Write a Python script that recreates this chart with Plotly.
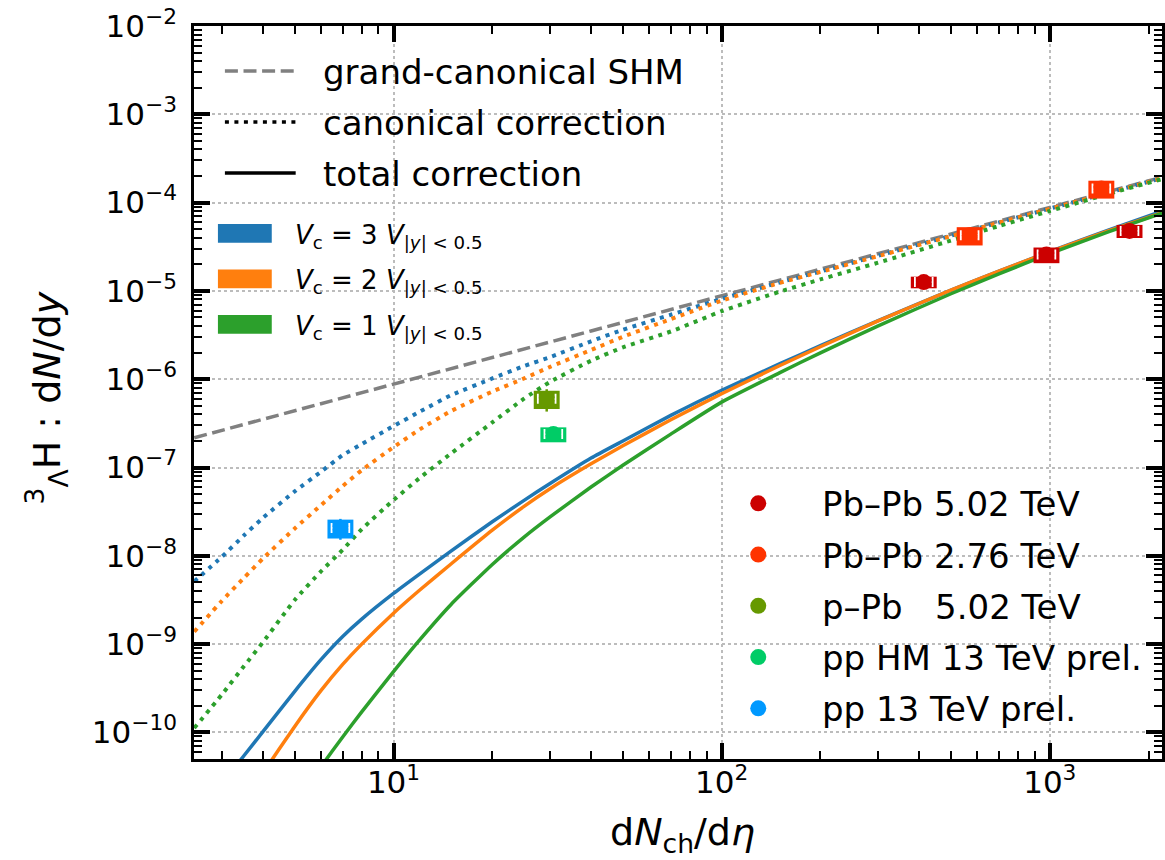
import plotly.graph_objects as go

# ---------------- data ----------------
x_model = [2.47, 3, 3.5, 4, 5, 6, 7, 8, 10, 12, 15, 20, 25, 30, 40, 50, 70,
           100, 150, 200, 300, 500, 700, 1000, 1500, 2200]

gc_shm = [2.17e-7, 2.64e-7, 3.08e-7, 3.52e-7, 4.4e-7, 5.28e-7, 6.16e-7, 7.04e-7,
          8.8e-7, 1.06e-6, 1.32e-6, 1.76e-6, 2.2e-6, 2.64e-6, 3.52e-6, 4.4e-6,
          6.16e-6, 8.8e-6, 1.32e-5, 1.76e-5, 2.64e-5, 4.4e-5, 6.16e-5, 8.8e-5,
          1.32e-4, 1.94e-4]

canon_v3 = [5.13e-9, 9.77e-9, 1.70e-8, 2.69e-8, 5.37e-8, 8.91e-8, 1.38e-7, 1.84e-7,
            2.95e-7, 4.27e-7, 6.61e-7, 1.02e-6, 1.41e-6, 1.78e-6, 2.69e-6, 3.63e-6,
            5.37e-6, 8.13e-6, 1.245e-5, 1.66e-5, 2.51e-5, 4.22e-5, 5.96e-5, 8.55e-5,
            1.29e-4, 1.90e-4]
canon_v2 = [1.38e-9, 3.09e-9, 5.62e-9, 9.33e-9, 2.04e-8, 3.72e-8, 6.17e-8, 9.33e-8,
            1.70e-7, 2.69e-7, 4.37e-7, 7.24e-7, 1.02e-6, 1.38e-6, 2.14e-6, 3.02e-6,
            4.79e-6, 7.76e-6, 1.23e-5, 1.64e-5, 2.48e-5, 4.17e-5, 5.92e-5, 8.51e-5,
            1.28e-4, 1.89e-4]
canon_v1 = [1.12e-10, 2.69e-10, 5.62e-10, 1.05e-9, 3.16e-9, 6.61e-9, 1.17e-8, 2.0e-8,
            4.27e-8, 7.59e-8, 1.45e-7, 3.24e-7, 6.03e-7, 9.33e-7, 1.62e-6, 2.29e-6,
            3.47e-6, 5.89e-6, 9.77e-6, 1.35e-5, 2.09e-5, 3.72e-5, 5.43e-5, 8.04e-5,
            1.245e-4, 1.85e-4]

total_v3 = [1.06e-11, 2.64e-11, 5.44e-11, 1.02e-10, 2.92e-10, 6.62e-10, 1.22e-9, 1.92e-9,
            3.75e-9, 6.21e-9, 1.14e-8, 2.43e-8, 4.25e-8, 6.59e-8, 1.28e-7, 2.00e-7,
            3.89e-7, 7.50e-7, 1.49e-6, 2.40e-6, 4.62e-6, 1.02e-5, 1.67e-5, 2.79e-5,
            4.85e-5, 8.02e-5]
total_v2 = [2.51e-12, 7.08e-12, 1.66e-11, 3.47e-11, 1.17e-10, 2.95e-10, 5.89e-10, 1.0e-9,
            2.24e-9, 4.07e-9, 8.13e-9, 1.95e-8, 3.63e-8, 5.75e-8, 1.10e-7, 1.76e-7,
            3.47e-7, 6.84e-7, 1.42e-6, 2.33e-6, 4.57e-6, 1.02e-5, 1.67e-5, 2.77e-5,
            4.75e-5, 7.67e-5]
total_v1 = [3.02e-13, 8.91e-13, 2.14e-12, 4.51e-12, 1.54e-11, 4.05e-11, 8.89e-11, 1.71e-10,
            4.89e-10, 1.11e-9, 2.83e-9, 7.98e-9, 1.63e-8, 2.76e-8, 6.01e-8, 1.06e-7,
            2.39e-7, 5.50e-7, 1.18e-6, 1.99e-6, 4.02e-6, 9.29e-6, 1.56e-5, 2.64e-5,
            4.62e-5, 7.59e-5]

vc_labels = ["3", "2", "1"]

# measured points: x, y, stat, syst
pbpb502_x = [413, 977, 1750]
pbpb502_y = [1.26e-5, 2.58e-5, 4.78e-5]
pbpb502_stat = [1.0e-6, 2.0e-6, 4.0e-6]
pbpb502_sys = [1.9e-6, 5.2e-6, 8.1e-6]

pbpb276_x = [570, 1436]
pbpb276_y = [4.27e-5, 1.44e-4]
pbpb276_stat = [3.0e-6, 1.5e-5]
pbpb276_sys = [1.0e-5, 3.3e-5]

ppb_x = [29.3]
ppb_y = [6.0e-7]
ppb_stat = [1.7e-7]
ppb_sys = [1.4e-7]

pphm_x = [30.7]
pphm_y = [2.39e-7]
pphm_stat = [2.5e-8]
pphm_sys = [4.6e-8]

pp13_x = [6.89]
pp13_y = [2.07e-8]
pp13_stat = [5.5e-9]
pp13_sys = [5.0e-9]

data_labels = ["Pb\u2013Pb 5.02 TeV", "Pb\u2013Pb 2.76 TeV", "p\u2013Pb\u00a0\u00a0 5.02 TeV",
               "pp HM 13 TeV prel.", "pp 13 TeV prel."]

x_tickvals = [10, 100, 1000]
x_ticktext = ["10<sup>1</sup>", "10<sup>2</sup>", "10<sup>3</sup>"]
y_tickvals = [1e-10, 1e-9, 1e-8, 1e-7, 1e-6, 1e-5, 1e-4, 1e-3, 1e-2]
y_ticktext = ["10<sup>\u221210</sup>", "10<sup>\u22129</sup>", "10<sup>\u22128</sup>",
              "10<sup>\u22127</sup>", "10<sup>\u22126</sup>", "10<sup>\u22125</sup>",
              "10<sup>\u22124</sup>", "10<sup>\u22123</sup>", "10<sup>\u22122</sup>"]

# ---------------- style ----------------
W, H = 1165, 860
L, R, T, B = 194, 0, 26, 101
FONT = "DejaVu Sans"
BLUE, ORANGE, GREEN = "#1f77b4", "#ff7f0e", "#2ca02c"
GRAY = "#808080"
DOT = "4px,5.5px"
DASH = "13px,5.6px"
LW = 3.5
LW_DOT = 4
pt_colors = ["#cc0000", "#ff3300", "#669900", "#00cc66", "#0099ff"]
BOX_HALF_DEC = 0.0395
BRACKET_DEC = 0.027
SMOOTH = 0.5

fig = go.Figure()

# model curves
fig.add_trace(go.Scatter(x=x_model, y=gc_shm, mode="lines",
                         line=dict(color=GRAY, width=LW, dash=DASH), hoverinfo="skip"))
for ys, c in [(canon_v3, BLUE), (canon_v2, ORANGE), (canon_v1, GREEN)]:
    fig.add_trace(go.Scatter(x=x_model, y=ys, mode="lines", line_shape="spline",
                             line=dict(color=c, width=LW_DOT, dash=DOT, smoothing=SMOOTH),
                             hoverinfo="skip"))
for ys, c in [(total_v3, BLUE), (total_v2, ORANGE), (total_v1, GREEN)]:
    fig.add_trace(go.Scatter(x=x_model, y=ys, mode="lines", line_shape="spline",
                             line=dict(color=c, width=LW, smoothing=SMOOTH), hoverinfo="skip"))

# data points
datasets = [
    (pbpb502_x, pbpb502_y, pbpb502_stat, pbpb502_sys),
    (pbpb276_x, pbpb276_y, pbpb276_stat, pbpb276_sys),
    (ppb_x, ppb_y, ppb_stat, ppb_sys),
    (pphm_x, pphm_y, pphm_stat, pphm_sys),
    (pp13_x, pp13_y, pp13_stat, pp13_sys),
]
fbox = 10 ** BOX_HALF_DEC
fbr = 10 ** BRACKET_DEC
for (xs, ys, st, sy), col in zip(datasets, pt_colors):
    for xv, yv, s in zip(xs, ys, sy):
        fig.add_trace(go.Scatter(
            x=[xv / fbox, xv * fbox, xv * fbox, xv / fbox, xv / fbox],
            y=[yv - s, yv - s, yv + s, yv + s, yv - s],
            mode="lines", fill="toself", fillcolor=col,
            line=dict(width=0, color=col), hoverinfo="skip"))
    fig.add_trace(go.Scatter(
        x=xs, y=ys, mode="markers",
        marker=dict(size=1, color="rgba(0,0,0,0)"),
        error_x=dict(type="data", symmetric=False,
                     array=[xv * (fbr - 1) for xv in xs],
                     arrayminus=[xv * (1 - 1 / fbr) for xv in xs],
                     color="white", thickness=1.8, width=5),
        hoverinfo="skip"))
    fig.add_trace(go.Scatter(
        x=xs, y=ys, mode="markers",
        marker=dict(size=16, color=col, line=dict(width=0)),
        error_y=dict(type="data", array=st, color=col, thickness=2.5, width=0),
        hoverinfo="skip"))

# ---------------- legends (drawn in paper coordinates) ----------------
def px(x):
    return (x - L) / (W - L - R)

def py(y):
    return (H - B - y) / (H - T - B)

shapes = []
annots = []

leg1 = [("grand-canonical SHM", GRAY, DASH, 71),
        ("canonical correction", "black", DOT, 122),
        ("total correction", "black", "solid", 173)]
for txt, c, d, yy in leg1:
    shapes.append(dict(type="line", xref="paper", yref="paper",
                       x0=px(225), x1=px(296), y0=py(yy), y1=py(yy),
                       line=dict(color=c, width=LW, dash=d)))
    annots.append(dict(text=txt, xref="paper", yref="paper", x=px(321), y=py(yy + 1),
                       xanchor="left", yanchor="middle", showarrow=False,
                       font=dict(family=FONT, size=34, color="black")))

for i, (lab, c) in enumerate(zip(vc_labels, [BLUE, ORANGE, GREEN])):
    y0 = 224 + i * 45.5
    shapes.append(dict(type="rect", xref="paper", yref="paper",
                       x0=px(218), x1=px(272), y0=py(y0), y1=py(y0 + 18.7),
                       fillcolor=c, line=dict(width=0)))
    annots.append(dict(text="<i>V</i><sub>c</sub> = " + lab + " <i>V</i><sub>|<i>y</i>| &lt; 0.5</sub>",
                       xref="paper", yref="paper", x=px(293), y=py(y0 + 12),
                       xanchor="left", yanchor="middle", showarrow=False,
                       font=dict(family=FONT, size=26, color="black")))

for i, (lab, c) in enumerate(zip(data_labels, pt_colors)):
    yy = 503.3 + i * 51.25
    shapes.append(dict(type="circle", xref="paper", yref="paper",
                       xsizemode="pixel", ysizemode="pixel",
                       xanchor=px(760), yanchor=py(yy),
                       x0=-8, x1=8, y0=-8, y1=8,
                       fillcolor=c, line=dict(width=0)))
    annots.append(dict(text=lab, xref="paper", yref="paper", x=px(822), y=py(yy + 1),
                       xanchor="left", yanchor="middle", showarrow=False,
                       font=dict(family=FONT, size=34, color="black")))

# axis titles
annots.append(dict(text="d<i>N</i><sub>ch</sub>/d<i>\u03b7</i>", xref="paper", yref="paper",
                   x=px(684), y=py(834), xanchor="center", yanchor="middle", showarrow=False,
                   font=dict(family=FONT, size=38, color="black")))
annots.append(dict(text="<sup>3</sup><sub>\u039b</sub>H : d<i>N</i>/d<i>y</i>", xref="paper", yref="paper",
                   x=px(46), y=py(398), xanchor="center", yanchor="middle", showarrow=False,
                   textangle=-90, font=dict(family=FONT, size=38, color="black")))

axis_common = dict(
    type="log", showline=True, linecolor="black", linewidth=2.5, mirror="allticks",
    ticks="inside", ticklen=16, tickwidth=3.5, tickcolor="black",
    showgrid=True, gridcolor="#bcbcbc", gridwidth=1.5, griddash="dot",
    zeroline=False, tickfont=dict(family=FONT, size=31, color="black"),
    minor=dict(ticks="inside", ticklen=8, tickwidth=1.5, tickcolor="black",
               dtick="D1", showgrid=False),
)

fig.update_layout(
    width=W, height=H, margin=dict(l=L, r=R, t=T, b=B, pad=0),
    paper_bgcolor="white", plot_bgcolor="white", showlegend=False,
    font=dict(family=FONT, color="black"),
    xaxis=dict(axis_common, range=[0.392, 3.342], tickvals=x_tickvals, ticktext=x_ticktext,
               ticklabelstandoff=-6),
    yaxis=dict(axis_common, range=[-10.301, -2.0], tickvals=y_tickvals, ticktext=y_ticktext,
               ticklabelstandoff=8),
    shapes=shapes, annotations=annots,
)

fig.write_html("out.html")
